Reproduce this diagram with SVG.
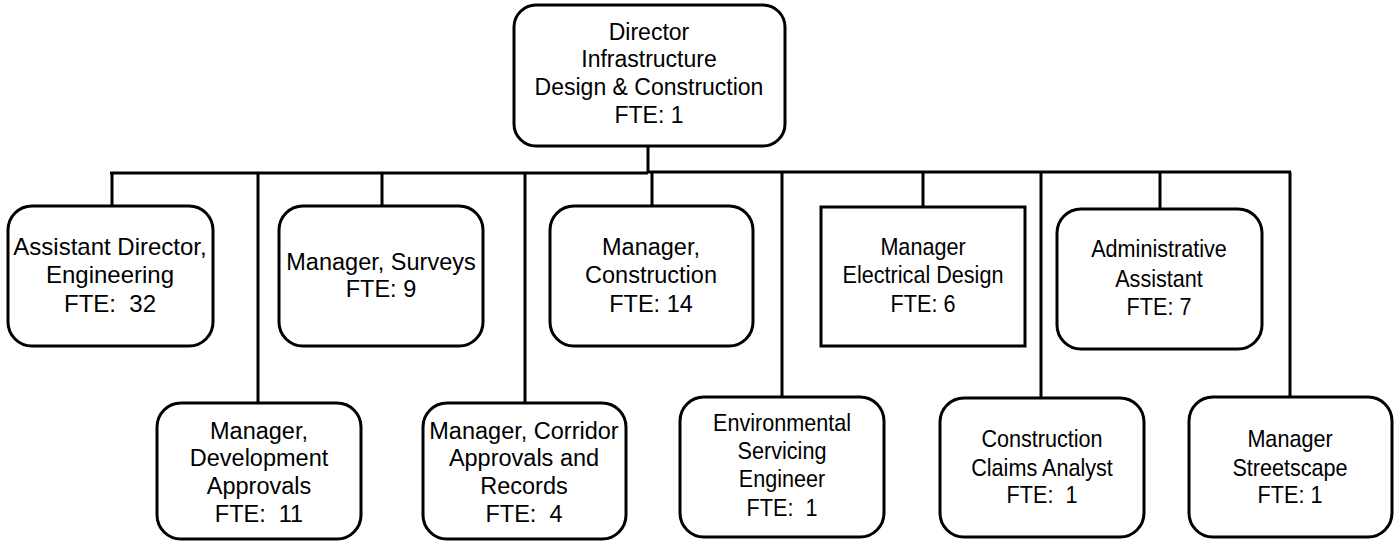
<svg xmlns="http://www.w3.org/2000/svg" width="1398" height="542" viewBox="0 0 1398 542">
<style>
.box{fill:#fff;stroke:#000;stroke-width:3}
.ln{stroke:#000;stroke-width:3;fill:none}
text{font-family:"Liberation Sans",Arial,sans-serif;fill:#000;text-anchor:middle;white-space:pre}
.t{font-size:23.5px}
.a{font-size:24px}
.d{font-size:23px}
.n{font-size:24px}
</style>
<rect width="1398" height="542" fill="#fff"/>
<g id="connectors">
<path class="ln" d="M648 146V173M110 173H648M648 172H1291"/>
<path class="ln" d="M112 173V206M258 173V403M382 173V206M525 173V403M652 172V206M782 172V397M923 172V207M1041 172V398M1160 172V209M1290 172V397"/>
</g>
<g id="director">
<rect class="box" x="514" y="5" width="271" height="141" rx="22"/>
<text class="d" x="649" y="40">Director</text>
<text class="d" x="649" y="67">Infrastructure</text>
<text class="d" x="649" y="95">Design &amp; Construction</text>
<text class="d" x="649" y="123">FTE: 1</text>
</g>
<g id="asst-director">
<rect class="box" x="8" y="206" width="205" height="140" rx="24"/>
<text class="a" x="110" y="255">Assistant Director,</text>
<text class="a" x="110" y="283">Engineering</text>
<text class="a" x="110" y="312" xml:space="preserve">FTE:  32</text>
</g>
<g id="surveys">
<rect class="box" x="279" y="206" width="204" height="140" rx="24"/>
<text class="t" x="381" y="270">Manager, Surveys</text>
<text class="t" x="381" y="297">FTE: 9</text>
</g>
<g id="construction">
<rect class="box" x="550" y="206" width="203" height="140" rx="24"/>
<text class="t" x="651" y="255">Manager,</text>
<text class="t" x="651" y="283">Construction</text>
<text class="t" x="651" y="312">FTE: 14</text>
</g>
<g id="electrical">
<rect class="box" x="821" y="207" width="204" height="139"/>
<g transform="translate(923 0) scale(0.9 1)">
<text class="n" x="0" y="255">Manager</text>
<text class="n" x="0" y="283">Electrical Design</text>
<text class="n" x="0" y="312">FTE: 6</text>
</g>
</g>
<g id="admin">
<rect class="box" x="1057" y="209" width="205" height="140" rx="24"/>
<g transform="translate(1159 0) scale(0.9 1)">
<text class="n" x="0" y="257">Administrative</text>
<text class="n" x="0" y="287">Assistant</text>
<text class="n" x="0" y="315">FTE: 7</text>
</g>
</g>
<g id="development">
<rect class="box" x="157" y="403" width="204" height="136" rx="24"/>
<text class="t" x="259" y="439">Manager,</text>
<text class="t" x="259" y="466">Development</text>
<text class="t" x="259" y="494">Approvals</text>
<text class="t" x="259" y="522" xml:space="preserve">FTE:  11</text>
</g>
<g id="corridor">
<rect class="box" x="423" y="403" width="203" height="136" rx="24"/>
<text class="t" x="524" y="439">Manager, Corridor</text>
<text class="t" x="524" y="466">Approvals and</text>
<text class="t" x="524" y="494">Records</text>
<text class="t" x="524" y="522" xml:space="preserve">FTE:  4</text>
</g>
<g id="environmental">
<rect class="box" x="680" y="397" width="204" height="140" rx="24"/>
<g transform="translate(782 0) scale(0.9 1)">
<text class="n" x="0" y="431">Environmental</text>
<text class="n" x="0" y="459">Servicing</text>
<text class="n" x="0" y="487">Engineer</text>
<text class="n" x="0" y="516" xml:space="preserve">FTE:  1</text>
</g>
</g>
<g id="claims">
<rect class="box" x="940" y="398" width="204" height="139" rx="24"/>
<g transform="translate(1042 0) scale(0.9 1)">
<text class="n" x="0" y="447">Construction</text>
<text class="n" x="0" y="476">Claims Analyst</text>
<text class="n" x="0" y="503" xml:space="preserve">FTE:  1</text>
</g>
</g>
<g id="streetscape">
<rect class="box" x="1189" y="397" width="203" height="140" rx="24"/>
<g transform="translate(1290 0) scale(0.9 1)">
<text class="n" x="0" y="447">Manager</text>
<text class="n" x="0" y="476">Streetscape</text>
<text class="n" x="0" y="503">FTE: 1</text>
</g>
</g>
</svg>
